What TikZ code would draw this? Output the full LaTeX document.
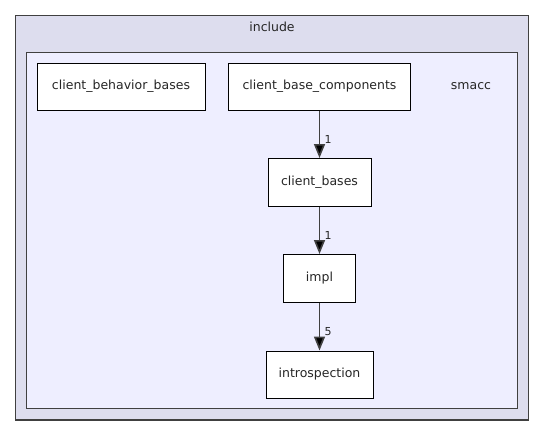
\documentclass[tikz,border=0pt]{standalone}
\usepackage{fontspec}
\setmainfont{DejaVu Sans}
\usetikzlibrary{arrows.meta}
\definecolor{outerfill}{HTML}{DDDDEE}
\definecolor{innerfill}{HTML}{EEEEFF}
\definecolor{edgecol}{HTML}{404040}
\tikzset{
  x=1pt, y=-1pt,
  dirbox/.style={draw=black, fill=white, line width=1pt, inner sep=0pt},
  clusterbox/.style={draw=edgecol, line width=1.3pt},
  lbl/.style={font=\fontsize{12.5}{14}\selectfont, text=black!85},
  elbl/.style={font=\fontsize{11}{12}\selectfont, text=black!85, anchor=west},
  dep/.style={draw=edgecol, line width=1.6pt, -{Triangle[length=14pt,width=11pt,fill=black]}}
}
\begin{document}
\begin{tikzpicture}
\useasboundingbox (0,0) rectangle (545,436);
\fill[white] (0,0) rectangle (545,436);
% clusters
\draw[clusterbox, fill=outerfill] (15.5,15.5) rectangle (528.5,420);
\node[lbl] (inclbl) at (272,27) {include};
\draw[clusterbox, fill=innerfill] (26.5,52.5) rectangle (517.5,408.5);
\node[lbl] (smacclbl) at (471,86) {smacc};
% nodes
\node[dirbox, minimum width=168pt, minimum height=47pt, lbl] (cbb) at (121,86.5) {client\_behavior\_bases};
\node[dirbox, minimum width=182pt, minimum height=47pt, lbl] (cbc) at (319.5,86.5) {client\_base\_components};
\node[dirbox, minimum width=103pt, minimum height=48pt, lbl] (cb) at (319.5,182.5) {client\_bases};
\node[dirbox, minimum width=72pt, minimum height=48pt, lbl] (impl) at (319.5,278.5) {impl};
\node[dirbox, minimum width=107pt, minimum height=47pt, lbl] (intro) at (319.5,374.5) {introspection};
% edges
\draw[dep] (cbc.south) -- node[elbl, pos=0.6, xshift=1pt] {1} (cb.north);
\draw[dep] (cb.south) -- node[elbl, pos=0.6, xshift=1pt] {1} (impl.north);
\draw[dep] (impl.south) -- node[elbl, pos=0.6, xshift=1pt] {5} (intro.north);
\end{tikzpicture}
\end{document}
